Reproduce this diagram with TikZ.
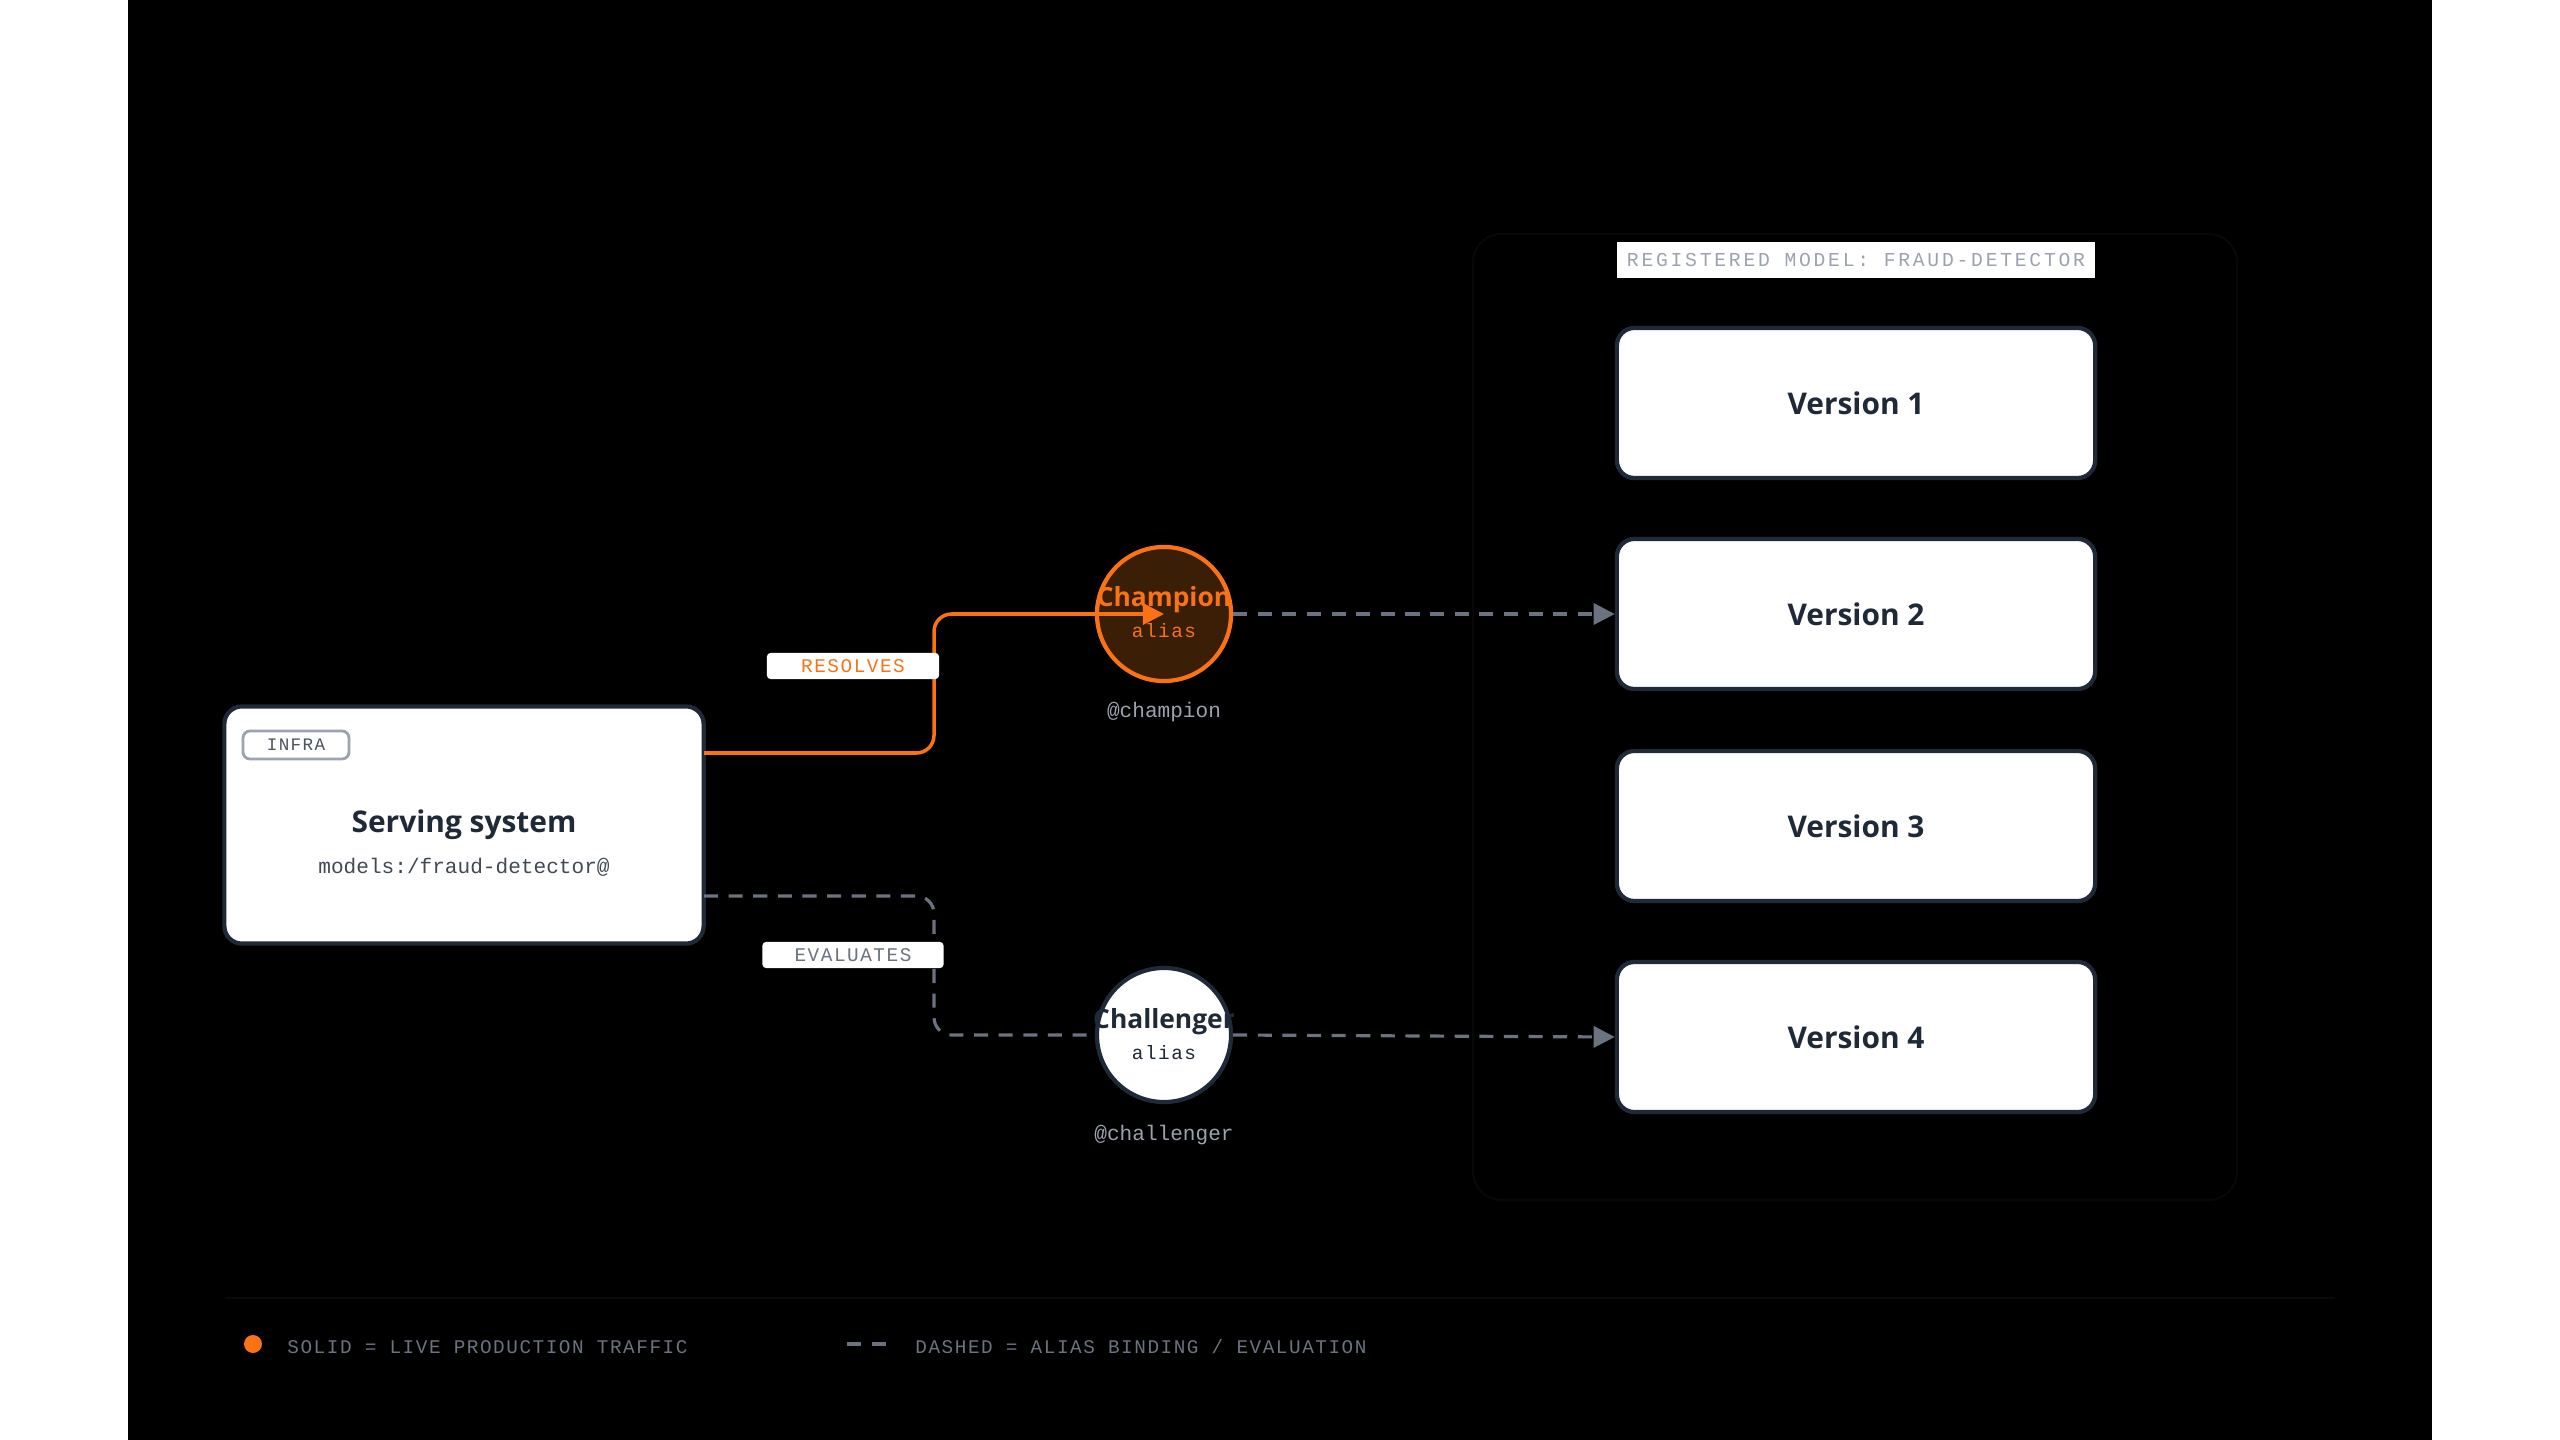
\documentclass[tikz,border=0pt]{standalone}
\usepackage{fontspec}
\setmainfont{Open Sans}
\newfontfamily\monof{Liberation Mono}
\newfontfamily\monosp[LetterSpace=8]{Liberation Mono}
\newfontfamily\monowide[LetterSpace=14]{Liberation Mono}
\usetikzlibrary{arrows.meta}
\definecolor{ink}{HTML}{1F2937}
\definecolor{org}{HTML}{F97316}
\definecolor{dgray}{HTML}{6B7280}
\definecolor{lgray}{HTML}{9CA3AF}
\definecolor{champfill}{HTML}{3A1E06}
\begin{document}
\begin{tikzpicture}[x=0.01cm,y=-0.01cm,
  card/.style={draw=ink,line width=1.2pt,fill=white,rounded corners=5pt,inner sep=0pt},
  tag/.style={fill=white,inner sep=0pt,font=\monosp\fontsize{5.5}{6}\selectfont},
  solid line/.style={draw=org,line width=1pt,rounded corners=5pt},
  dash line/.style={draw=dgray,line width=0.9pt,dash pattern=on 4pt off 3pt,rounded corners=5pt},
  tip/.style={-{Triangle[length=6pt,width=6pt]}},
  vtext/.style={font=\fontsize{8.5}{10}\selectfont\bfseries,text=ink}]
\useasboundingbox (0,0) rectangle (2560,1440);
\fill[white] (0,0) rectangle (2560,1440);
\fill[black] (128,0) rectangle (2432,1440);
% group frame
\draw[draw=white!3!black,line width=0.6pt,rounded corners=8pt] (1473,234) rectangle (2237,1200);
\node[fill=white,inner sep=0pt,minimum width=4.78cm,minimum height=0.36cm,text=lgray,font=\monowide\fontsize{5.6}{7}\selectfont] (title) at (1856,260) {REGISTERED MODEL: FRAUD-DETECTOR};
% versions
\foreach \n/\y in {1/403,2/614,3/826,4/1037}{
  \node[card,minimum width=4.78cm,minimum height=1.5cm,vtext] (v\n) at (1856,\y) {Version \n};
}
% serving
\node[card,minimum width=4.79cm,minimum height=2.37cm] (serve) at (464,825) {};
\node[vtext] (st) at (464,825) {Serving system};
\node[font=\monof\fontsize{6}{7}\selectfont,text=ink!85] (sm) at (464,867) {models:/fraud-detector@};
\node[draw=lgray,line width=0.8pt,rounded corners=2pt,fill=white,minimum width=1.06cm,minimum height=0.28cm,inner sep=0pt,font=\monosp\fontsize{5}{6}\selectfont,text=ink!80] (infra) at (296,745) {INFRA};
% circles
\node[circle,draw=org,line width=1.2pt,fill=champfill,minimum size=1.34cm,inner sep=0pt] (champ) at (1164,614) {};
\node[font=\fontsize{7.5}{9}\selectfont\bfseries,text=org] (chT) at (1164,600) {Champion};
\node[font=\monosp\fontsize{5.5}{6}\selectfont,text=org] (chA) at (1164,631) {alias};
\node[font=\monof\fontsize{6}{7}\selectfont,text=lgray] (chL) at (1164,712) {@champion};
\node[circle,draw=ink,line width=1.2pt,fill=white,minimum size=1.34cm,inner sep=0pt] (chal) at (1164,1035) {};
\node[font=\fontsize{7.5}{9}\selectfont\bfseries,text=ink] (clT) at (1164,1022) {Challenger};
\node[font=\monosp\fontsize{5.5}{6}\selectfont,text=ink] (clA) at (1164,1053) {alias};
\node[font=\monof\fontsize{6}{7}\selectfont,text=lgray] (clL) at (1164,1135) {@challenger};
% connectors
\coordinate (s1) at (704,753);
\coordinate (s2) at (704,896);
\path[solid line,tip,draw=org,fill=none] (s1) -- (934,753) -- (934,614) -- (champ.center);
\path[dash line] (s2) -- (934,896) -- (934,1035) -- (chal.west);
\path[dash line,-{Triangle[length=6pt,width=6pt,fill=dgray]}] (champ.east) -- (v2.west);
\path[dash line,-{Triangle[length=6pt,width=6pt,fill=dgray]}] (chal.east) -- (v4.west);
\node[tag,minimum width=1.72cm,minimum height=0.26cm,text=org,rounded corners=1pt] (res) at (853,666) {RESOLVES};
\node[tag,minimum width=1.81cm,minimum height=0.26cm,text=dgray,rounded corners=1pt] (eva) at (853,955) {EVALUATES};
% legend
\draw[draw=white!4!black,line width=0.6pt] (225,1298) -- (2335,1298);
\fill[org] (253,1344) circle (9);
\node[anchor=west,font=\monosp\fontsize{5.5}{6}\selectfont,text=dgray] (l1) at (275,1347) {SOLID = LIVE PRODUCTION TRAFFIC};
\coordinate (d1) at (847,1344); \coordinate (d2) at (887,1344);
\draw[dgray,line width=0.9pt,dash pattern=on 4pt off 3pt] (d1) -- (d2);
\node[anchor=west,font=\monosp\fontsize{5.5}{6}\selectfont,text=dgray] (l2) at (903,1347) {DASHED = ALIAS BINDING / EVALUATION};
\end{tikzpicture}
\end{document}
